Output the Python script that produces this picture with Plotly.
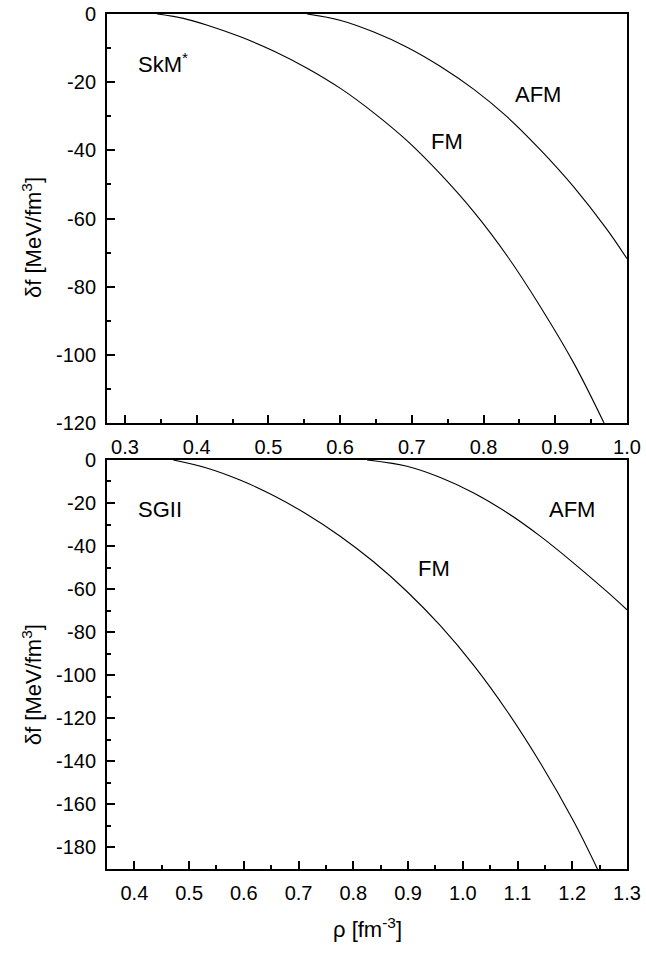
import plotly.graph_objects as go

# ---- data ----
# Top panel (SkM*): free-energy difference vs density
skm_fm_rho = [0.345, 0.380, 0.415, 0.461, 0.508, 0.554, 0.601, 0.647, 0.694, 0.740, 0.787, 0.833, 0.879, 0.926, 0.968]
skm_fm_df = [0.0, -1.2, -3.3, -6.7, -10.9, -15.9, -21.9, -29.0, -37.3, -47.0, -58.2, -71.0, -85.8, -102.5, -120.0]
skm_afm_rho = [0.554, 0.601, 0.647, 0.694, 0.740, 0.787, 0.833, 0.879, 0.926, 0.972, 1.000]
skm_afm_df = [0.0, -1.9, -5.3, -9.8, -15.4, -22.2, -30.2, -39.8, -50.8, -63.2, -71.8]

# Bottom panel (SGII)
sg_fm_rho = [0.471, 0.532, 0.593, 0.654, 0.715, 0.776, 0.837, 0.898, 0.959, 1.020, 1.081, 1.142, 1.203, 1.246]
sg_fm_df = [0.0, -3.7, -9.3, -16.5, -25.2, -35.4, -47.3, -61.1, -77.0, -95.4, -116.7, -140.9, -168.1, -190.0]
sg_afm_rho = [0.825, 0.898, 0.959, 1.020, 1.081, 1.142, 1.203, 1.264, 1.300]
sg_afm_df = [0.0, -2.9, -8.1, -15.3, -24.5, -35.5, -48.0, -61.3, -69.6]

top_xrange = [0.275, 1.0]
top_yrange = [-120, 0]
bot_xrange = [0.35, 1.3]
bot_yrange = [-190, 0]

top_xticks = [0.3, 0.4, 0.5, 0.6, 0.7, 0.8, 0.9, 1.0]
top_xticktext = ["0.3", "0.4", "0.5", "0.6", "0.7", "0.8", "0.9", "1.0"]
top_yticks = [0, -20, -40, -60, -80, -100, -120]
top_yticktext = ["0", "-20", "-40", "-60", "-80", "-100", "-120"]
bot_xticks = [0.4, 0.5, 0.6, 0.7, 0.8, 0.9, 1.0, 1.1, 1.2, 1.3]
bot_xticktext = ["0.4", "0.5", "0.6", "0.7", "0.8", "0.9", "1.0", "1.1", "1.2", "1.3"]
bot_yticks = [0, -20, -40, -60, -80, -100, -120, -140, -160, -180]
bot_yticktext = ["0", "-20", "-40", "-60", "-80", "-100", "-120", "-140", "-160", "-180"]

FONT = "Arial, Liberation Sans, sans-serif"

fig = go.Figure()
line = dict(color="black", width=1.1, shape="spline", smoothing=1.0)
fig.add_trace(go.Scatter(x=skm_fm_rho, y=skm_fm_df, mode="lines", line=line, xaxis="x", yaxis="y", showlegend=False))
fig.add_trace(go.Scatter(x=skm_afm_rho, y=skm_afm_df, mode="lines", line=line, xaxis="x", yaxis="y", showlegend=False))
fig.add_trace(go.Scatter(x=sg_fm_rho, y=sg_fm_df, mode="lines", line=line, xaxis="x2", yaxis="y2", showlegend=False))
fig.add_trace(go.Scatter(x=sg_afm_rho, y=sg_afm_df, mode="lines", line=line, xaxis="x2", yaxis="y2", showlegend=False))


def ax(rng, tickvals, ticktext, mdtick, domain=None, anchor=None):
    d = dict(range=rng, tickmode="array", tickvals=tickvals, ticktext=ticktext,
             showgrid=False, zeroline=False,
             showline=True, linecolor="black", linewidth=2, mirror=True,
             ticks="inside", ticklen=8, tickwidth=1.5, tickcolor="black",
             tickfont=dict(family=FONT, size=20, color="black"),
             minor=dict(ticks="inside", tick0=0, dtick=mdtick, ticklen=4, tickwidth=1.5,
                        tickcolor="black", showgrid=False),
             ticklabelstandoff=5, fixedrange=True)
    if domain is not None:
        d["domain"] = domain
    if anchor is not None:
        d["anchor"] = anchor
    return d


top_dom = [0.5216, 1.0]
bot_dom = [0.0, 0.4784]

fig.update_layout(
    width=646, height=953,
    margin=dict(l=107, r=19, t=14, b=84, autoexpand=False),
    paper_bgcolor="white", plot_bgcolor="white",
    font=dict(family=FONT, color="black"),
    xaxis=ax(top_xrange, top_xticks, top_xticktext, 0.05, anchor="y"),
    yaxis=ax(top_yrange, top_yticks, top_yticktext, 10, domain=top_dom, anchor="x"),
    xaxis2=ax(bot_xrange, bot_xticks, bot_xticktext, 0.05, anchor="y2"),
    yaxis2=ax(bot_yrange, bot_yticks, bot_yticktext, 10, domain=bot_dom, anchor="x2"),
)

lab_font = dict(size=22, family=FONT, color="black")
ylab = "δf [MeV/fm<sup>3</sup>]"
fig.update_layout(annotations=[
    dict(text="SkM<sup>*</sup>", x=0.353, y=-14.4, xref="x", yref="y", showarrow=False, font=lab_font),
    dict(text="AFM", x=0.876, y=-23.5, xref="x", yref="y", showarrow=False, font=lab_font),
    dict(text="FM", x=0.749, y=-37.4, xref="x", yref="y", showarrow=False, font=lab_font),
    dict(text="SGII", x=0.446, y=-23.2, xref="x2", yref="y2", showarrow=False, font=lab_font),
    dict(text="AFM", x=1.200, y=-23.2, xref="x2", yref="y2", showarrow=False, font=lab_font),
    dict(text="FM", x=0.947, y=-50.2, xref="x2", yref="y2", showarrow=False, font=lab_font),
    dict(text=ylab, textangle=-90, x=0, xshift=-75, xanchor="center", yanchor="middle",
         xref="paper", yref="paper", y=0.738, showarrow=False, font=lab_font),
    dict(text=ylab, textangle=-90, x=0, xshift=-75, xanchor="center", yanchor="middle",
         xref="paper", yref="paper", y=0.215, showarrow=False, font=lab_font),
    dict(text="ρ [fm<sup>-3</sup>]", x=0.5, y=-0.069, xanchor="center", yanchor="middle",
         xref="paper", yref="paper", showarrow=False, font=lab_font),
])

fig.write_html("out.html", config={"displayModeBar": False},
               post_script="document.body.style.margin='0px';")
